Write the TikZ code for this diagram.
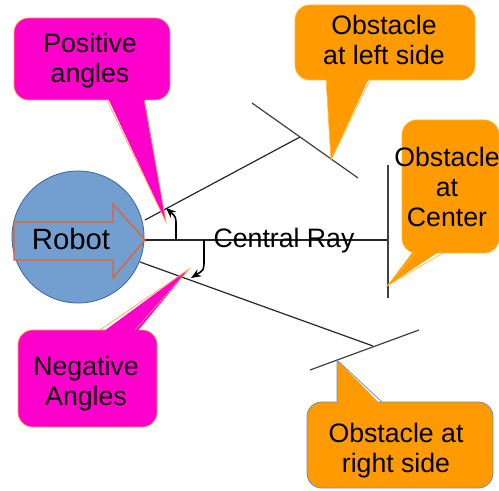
\documentclass[tikz,border=0pt]{standalone}
\usepackage{fontspec}
\setmainfont{Liberation Sans}
\usetikzlibrary{arrows.meta}
\definecolor{magfill}{HTML}{FF00CC}
\definecolor{magline}{HTML}{FFA040}
\definecolor{orfill}{HTML}{FF9A00}
\definecolor{orline}{HTML}{FFB838}
\definecolor{blueline}{HTML}{6D8FBF}
\definecolor{robfill}{HTML}{729FCF}
\definecolor{robline}{HTML}{3465A4}
\definecolor{arrline}{HTML}{E8602C}
\tikzset{
  ray/.style={draw=black!85, line width=0.9pt},
  obst/.style={draw=black!75, line width=0.9pt},
  anglearrow/.style={draw=black, line width=1.2pt, -{Stealth[length=7.5pt,width=6pt]}},
  lbl/.style={inner sep=0pt, align=center, font=\fontsize{20}{22.5}\selectfont},
  magbox/.style={fill=magfill, draw=magline, line width=0.5pt, rounded corners=11pt},
  orbox/.style={fill=orfill, draw=orline, line width=0.5pt, rounded corners=11pt},
  orboxb/.style={fill=orfill, draw=blueline, line width=0.6pt, rounded corners=11pt},
}
\begin{document}
\begin{tikzpicture}[x=0.75pt,y=-0.75pt]
\useasboundingbox (0,0) rectangle (499,491);
% coordinates
\coordinate (tip) at (145,240);
\coordinate (upS) at (145,220);
\coordinate (upE) at (300,137);
\coordinate (loS) at (140,262);
\coordinate (loE) at (373,346);
\coordinate (cE) at (388,240);
\coordinate (lo1) at (252,103);
\coordinate (lo2) at (358,178);
\coordinate (co1) at (388,165);
\coordinate (co2) at (388,298);
\coordinate (ro1) at (310,370);
\coordinate (ro2) at (419,330);
% rays and obstacles
\draw[ray] (upS) -- (upE);
\draw[ray] (loS) -- (loE);
\draw[ray] (tip) -- (cE);
\draw[obst] (lo1) -- (lo2);
\draw[obst] (co1) -- (co2);
\draw[obst] (ro1) -- (ro2);
% robot
\node[circle, minimum size=132*0.75pt, inner sep=0pt, fill=robfill, draw=robline, line width=0.6pt] (robotc) at (78,237) {};
\draw[draw=arrline, fill=robfill, line width=1pt, line join=miter]
  (14,222) -- (113,222) -- (113,204) -- (tip) -- (113,278) -- (113,260) -- (14,260) -- cycle;
\node[inner sep=0pt, anchor=base, font=\fontsize{22}{26}\selectfont] (robot) at (71,250) {Robot};
% angle arrows
\draw[anglearrow] (176,240) -- (176,226) .. controls (176,217) .. (166,208);
\draw[anglearrow] (204,240) -- (204,260) .. controls (204,270) .. (191,278);
% central ray label
\node[lbl, anchor=base] (central) at (284,248) {Central Ray};
% Positive angles callout
\path[magbox] (14,18) rectangle (170,100);
\fill[magfill] (107,96) -- (166,222) -- (144,96) -- cycle;
\draw[magline, line width=0.5pt] (107,100) -- (166,222) -- (144,100);
\node[lbl] (pos) at (90,62) {\strut Positive\\\strut angles};
% Negative angles callout
\path[magbox] (18,330) rectangle (157,427);
\fill[magfill] (100,334) -- (189,269) -- (135,334) -- cycle;
\draw[magline, line width=0.5pt] (100,330) -- (189,269) -- (135,330);
\node[lbl] (neg) at (86,384) {\strut Negative\\\strut Angles};
% Obstacle at left side callout
\path[orbox] (295,5) rectangle (475,80);
\fill[orfill] (326,76) -- (331,160) -- (370,76) -- cycle;
\draw[orline, line width=0.5pt] (326,80) -- (331,160) -- (370,80);
\node[lbl] (oleft) at (384,44) {\strut Obstacle\\\strut at left side};
% Obstacle at center callout
\path[orbox] (402,120) rectangle (499,253);
\fill[orfill] (415,249) -- (387,286) -- (443,249) -- cycle;
\draw[orline, line width=0.5pt] (415,253) -- (387,286) -- (443,253);
\node[lbl] (ocenter) at (447,191) {\strut Obstacle\\\strut at\\\strut Center};
% Obstacle at right side callout
\path[orboxb] (307,402) rectangle (493,488);
\fill[orfill] (337,406) -- (337,360) -- (382,406) -- cycle;
\draw[blueline, line width=0.6pt] (337,402) -- (337,360) -- (382,402);
\node[lbl] (oright) at (396,451) {\strut Obstacle at\\\strut right side};
\end{tikzpicture}
\end{document}
